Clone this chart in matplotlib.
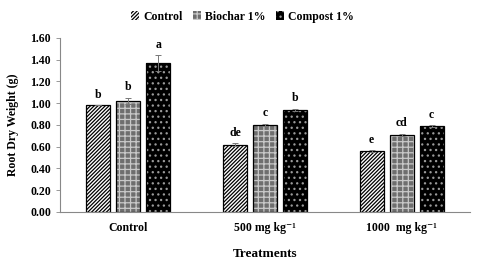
import matplotlib
matplotlib.use("Agg")
import matplotlib.pyplot as plt
import numpy as np

plt.rcParams['font.family'] = ['Liberation Serif', 'DejaVu Serif']
plt.rcParams['font.weight'] = 'bold'
plt.rcParams['hatch.linewidth'] = 0.9

treatments = ["Control", "500 mg kg⁻¹", "1000  mg kg⁻¹"]
series = ["Control", "Biochar 1%", "Compost 1%"]
control = [0.98, 0.62, 0.56]
biochar = [1.02, 0.80, 0.71]
compost = [1.37, 0.94, 0.79]
err_control = [0.0, 0.01, 0.01]
err_biochar = [0.03, 0.01, 0.01]
err_compost = [0.07, 0.01, 0.01]
letters_control = ["b", "de", "e"]
letters_biochar = ["b", "c", "cd"]
letters_compost = ["a", "b", "c"]

values = [control, biochar, compost]
errors = [err_control, err_biochar, err_compost]
letters = [letters_control, letters_biochar, letters_compost]
faces = ['white', '#6e6e6e', 'black']
hatch_cols = ['black', '#c8c8c8', '#9a9a9a']
hatches = ['/////////', '+++', '...']

fig = plt.figure(figsize=(4.8, 2.63), dpi=100)
ax = fig.add_axes([0.125, 0.194, 0.854, 0.662])

x = np.arange(len(treatments))
w = 0.176
step = 0.22
handles = []
for i in range(3):
    pos = x + (i - 1) * step
    b = ax.bar(pos, values[i], w, color=faces[i], edgecolor=hatch_cols[i],
               hatch=hatches[i], linewidth=0, label=series[i])
    ax.bar(pos, values[i], w, fill=False, edgecolor='black', linewidth=0.9)
    ax.errorbar(pos, values[i], yerr=errors[i], fmt='none', ecolor='#777777',
                elinewidth=0.7, capsize=2, capthick=0.7)
    for p, v, e, t in zip(pos, values[i], errors[i], letters[i]):
        ax.text(p, v + e + 0.04, t, ha='center', va='bottom', fontsize=8.5,
                fontweight='bold')
    handles.append(b)

ax.set_xlim(-0.5, 2.5)
ax.set_ylim(0, 1.6)
ax.set_yticks(np.arange(0, 1.61, 0.2))
ax.set_yticklabels([f"{t:.2f}" for t in np.arange(0, 1.61, 0.2)])
ax.set_xticks(x)
ax.set_xticklabels(treatments)
ax.tick_params(axis='x', length=0, pad=7, labelsize=8.5)
ax.tick_params(axis='y', length=3, width=0.6, color='#888888', labelsize=8.5)
for s in ['top', 'right']:
    ax.spines[s].set_visible(False)
for s in ['left', 'bottom']:
    ax.spines[s].set_color('#888888')
    ax.spines[s].set_linewidth(0.8)

ax.set_ylabel("Root Dry Weight (g)", fontsize=8.5, fontweight='bold', labelpad=8)
ax.set_xlabel("Treatments", fontsize=9.5, fontweight='bold', labelpad=10)

fig.legend(handles=handles, labels=series, loc='upper center',
           bbox_to_anchor=(0.505, 1.0), ncol=3, frameon=False, fontsize=8.5,
           handlelength=0.7, handleheight=0.7, columnspacing=0.9,
           handletextpad=0.3)

fig.savefig("out.png", dpi=100)
